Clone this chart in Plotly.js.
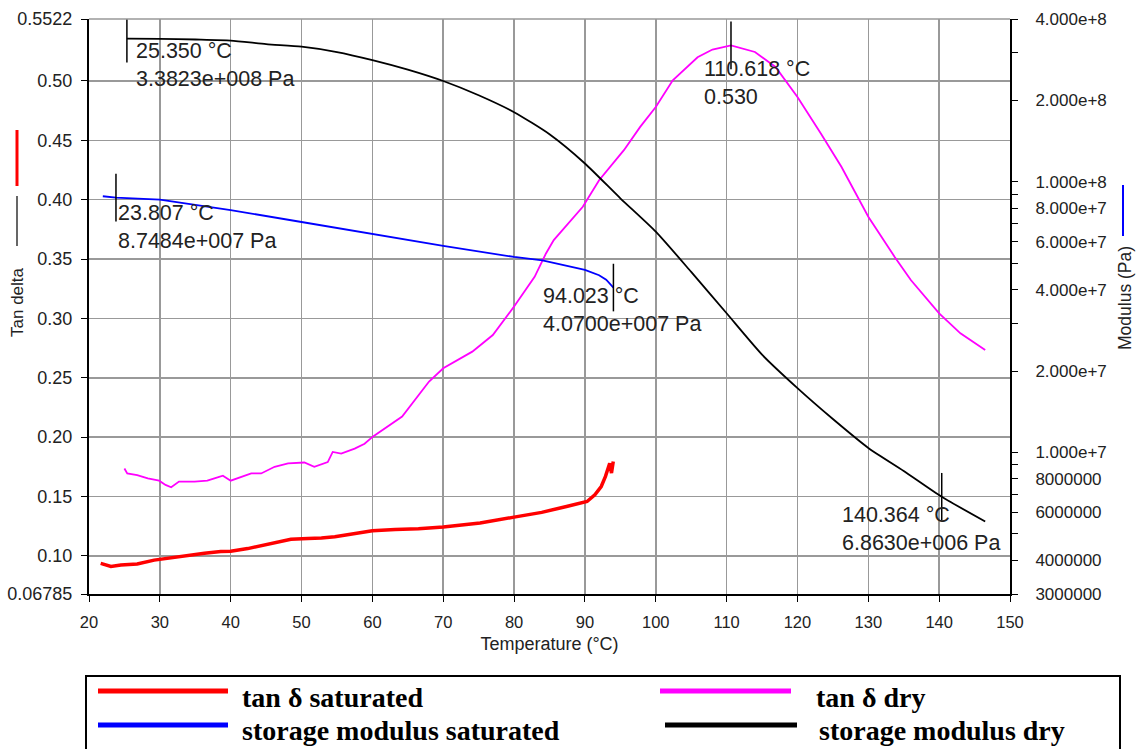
<!DOCTYPE html>
<html>
<head>
<meta charset="utf-8">
<script src="https://cdn.plot.ly/plotly-3.0.1.min.js"></script>
<style>
html,body{margin:0;padding:0;background:#fff;}
#chart{width:1146px;height:749px;}
</style>
</head>
<body>
<div id="chart"></div>
<script>
// ---------- DATA ----------
// tan delta, saturated (red)
const tempSatTan = [21.65, 23.1, 24.5, 26.8, 29.2, 31.6, 33.9, 36.3, 38.6, 40.0, 42.4, 44.8, 47.1, 48.5, 50.9, 52.8, 54.7, 56.6, 58.4, 60.0, 63.2, 66.5, 70.0, 75.2, 80.0, 83.9, 87.4, 90.3, 91.4, 92.3, 92.9, 93.2, 93.5, 93.75, 94.0];
const tanSat = [0.0936, 0.0911, 0.0922, 0.0931, 0.0964, 0.0986, 0.1006, 0.1022, 0.1036, 0.1039, 0.1061, 0.1089, 0.1117, 0.1139, 0.1147, 0.1150, 0.1161, 0.1178, 0.1194, 0.1211, 0.1222, 0.1228, 0.1242, 0.1276, 0.1326, 0.1366, 0.1416, 0.1458, 0.1514, 0.1584, 0.1669, 0.1725, 0.1780, 0.1697, 0.1795];

// tan delta, dry (magenta)
const tempDryTan = [25.0, 25.4, 26.8, 28.3, 29.9, 30.8, 31.6, 32.7, 34.9, 36.7, 37.7, 38.9, 40.0, 41.5, 42.9, 44.3, 46.2, 48.1, 50.4, 51.8, 53.7, 54.4, 55.6, 57.5, 58.9, 60.1, 61.3, 64.2, 68.0, 70.0, 74.1, 77.0, 80.0, 82.9, 84.5, 85.6, 89.7, 92.0, 95.5, 97.8, 100.0, 102.4, 105.9, 108.0, 110.618, 114.0, 116.9, 120.0, 123.3, 126.2, 130.0, 133.7, 136.0, 140.0, 143.0, 146.5];
const tanDry = [0.1736, 0.1694, 0.1680, 0.1653, 0.1633, 0.1597, 0.1578, 0.1625, 0.1625, 0.1633, 0.1653, 0.1675, 0.1633, 0.1667, 0.1694, 0.1694, 0.1750, 0.1778, 0.1786, 0.1750, 0.1790, 0.1875, 0.1861, 0.1903, 0.1944, 0.2006, 0.2056, 0.2173, 0.2468, 0.2580, 0.2720, 0.2860, 0.3100, 0.3350, 0.3547, 0.3660, 0.3940, 0.4164, 0.4417, 0.4613, 0.4780, 0.5006, 0.5200, 0.5265, 0.5300, 0.5244, 0.5118, 0.4865, 0.4557, 0.4277, 0.3856, 0.3520, 0.3323, 0.3043, 0.2874, 0.2734];

// storage modulus, saturated (blue), Pa
const tempSatMod = [21.95, 23.807, 30, 40, 50, 60, 70, 80, 84, 90, 92, 93, 94.023];
const modSat = [8.85e7, 8.7484e7, 8.60e7, 7.87e7, 7.11e7, 6.42e7, 5.80e7, 5.28e7, 5.13e7, 4.73e7, 4.52e7, 4.35e7, 4.07e7];

// storage modulus, dry (black), Pa
const tempDryMod = [25.35, 30, 35, 40, 45, 50, 55, 60, 65, 70, 75, 80, 85, 90, 95, 100, 105, 110, 115, 120, 125, 130, 135, 140.364, 146.5];
const modDry = [3.3823e8, 3.38e8, 3.36e8, 3.33e8, 3.23e8, 3.16e8, 3.02e8, 2.82e8, 2.60e8, 2.36e8, 2.09e8, 1.81e8, 1.50e8, 1.17e8, 8.7e7, 6.55e7, 4.65e7, 3.27e7, 2.30e7, 1.73e7, 1.33e7, 1.04e7, 8.55e6, 6.863e6, 5.56e6];

// cursor readouts
const cursorTemps = [25.350, 23.807, 94.023, 110.618, 140.364];
const cursorValues = [3.3823e8, 8.7484e7, 4.0700e7, 0.530, 6.8630e6];
const cursorAxes = ['y2', 'y2', 'y2', 'y', 'y2'];

// axis ticks
const xTicks = [20, 30, 40, 50, 60, 70, 80, 90, 100, 110, 120, 130, 140, 150];
const leftTicks = [0.06785, 0.10, 0.15, 0.20, 0.25, 0.30, 0.35, 0.40, 0.45, 0.50, 0.5522];
const leftTickText = ['0.06785', '0.10', '0.15', '0.20', '0.25', '0.30', '0.35', '0.40', '0.45', '0.50', '0.5522'];
const rightTicks = [3e6, 4e6, 6e6, 8e6, 1e7, 2e7, 4e7, 6e7, 8e7, 1e8, 2e8, 4e8];
const rightTickText = ['3000000', '4000000', '6000000', '8000000', '1.000e+7', '2.000e+7', '4.000e+7', '6.000e+7', '8.000e+7', '1.000e+8', '2.000e+8', '4.000e+8'];
const rightMinorTicks = [5e6, 7e6, 9e6, 3e7, 5e7, 7e7, 9e7, 3e8];

const legendNames = ['tan δ saturated', 'tan δ dry', 'storage modulus saturated', 'storage modulus dry'];
const seriesColors = ['#ff0000', '#ff00ff', '#0000ff', '#000000'];

// ---------- LAYOUT HELPERS ----------
const W = 1146, H = 749;
const M = {l: 89, r: 136, t: 19, b: 155};
const PW = W - M.l - M.r, PH = H - M.t - M.b;
const px = v => (v - M.l) / PW;          // pixel x -> paper
const py = v => (H - M.b - v) / PH;      // pixel y -> paper

function fmtPa(v) {
  const s = v.toExponential(4);
  const [m, e] = s.split('e');
  const sign = e[0];
  const d = e.slice(1).padStart(3, '0');
  return m + 'e' + sign + d + ' Pa';
}

const baseFont = 'Liberation Sans, Arial, sans-serif';

const traces = [
  {x: tempSatTan, y: tanSat, type: 'scatter', mode: 'lines', name: legendNames[0],
   line: {color: seriesColors[0], width: 3.5}, yaxis: 'y'},
  {x: tempDryTan, y: tanDry, type: 'scatter', mode: 'lines', name: legendNames[1],
   line: {color: seriesColors[1], width: 1.8}, yaxis: 'y'},
  {x: tempSatMod, y: modSat, type: 'scatter', mode: 'lines', name: legendNames[2],
   line: {color: seriesColors[2], width: 1.8}, yaxis: 'y2'},
  {x: tempDryMod, y: modDry, type: 'scatter', mode: 'lines', name: legendNames[3],
   line: {color: seriesColors[3], width: 1.8, shape: 'spline', smoothing: 0.6}, yaxis: 'y2'}
];

// cursor markers
['y', 'y2'].forEach(ax => {
  const xs = [], ys = [];
  cursorTemps.forEach((t, i) => { if (cursorAxes[i] === ax) { xs.push(t); ys.push(cursorValues[i]); } });
  traces.push({x: xs, y: ys, type: 'scatter', mode: 'markers', yaxis: ax, hoverinfo: 'skip',
    marker: {symbol: 'line-ns-open', size: 34, color: '#000', line: {color: '#000', width: 1.5}}});
});

// annotation offsets (pixels)
const curShift = [[7, 2], [0, -1], [-72, 6], [-29, -10], [-102, -4]];

const annotations = cursorTemps.map((t, i) => {
  const isMod = cursorAxes[i] === 'y2';
  const txt = t.toFixed(3) + ' °C<br>' + (isMod ? fmtPa(cursorValues[i]) : cursorValues[i].toFixed(3));
  return {
    x: t, y: isMod ? Math.log10(cursorValues[i]) : cursorValues[i],
    xref: 'x', yref: cursorAxes[i], text: txt, showarrow: false,
    xanchor: 'left', yanchor: 'top', align: 'left',
    xshift: curShift[i][0], yshift: curShift[i][1],
    font: {family: baseFont, size: 21.5, color: '#222'}
  };
});

// axis titles
annotations.push({xref: 'paper', yref: 'paper', x: px(17), y: py(302), text: 'Tan delta',
  textangle: -90, showarrow: false, xanchor: 'center', yanchor: 'middle',
  font: {family: baseFont, size: 17, color: '#222'}});
annotations.push({xref: 'paper', yref: 'paper', x: px(1125), y: py(298), text: 'Modulus (Pa)',
  textangle: -90, showarrow: false, xanchor: 'center', yanchor: 'middle',
  font: {family: baseFont, size: 17.5, color: '#222'}});

// legend texts
const legTextPos = [[240, 697], [814, 697], [240, 730], [817, 730]];
legendNames.forEach((n, i) => {
  annotations.push({xref: 'paper', yref: 'paper', x: px(legTextPos[i][0]), y: py(legTextPos[i][1]),
    text: '<b>' + n + '</b>', showarrow: false, xanchor: 'left', yanchor: 'middle',
    font: {family: 'Liberation Serif, Times New Roman, serif', size: 28, color: '#000'}});
});

const legLinePos = [[98, 228, 691], [660, 791, 691], [98, 228, 725], [665, 797, 725]];
const shapes = [
  // top border
  {type: 'line', xref: 'paper', yref: 'paper', x0: 0, x1: 1, y0: 1, y1: 1, line: {color: '#999', width: 1.5}},
  // legend box
  {type: 'rect', xref: 'paper', yref: 'paper', x0: px(86), x1: px(1120), y0: py(676), y1: py(760),
   line: {color: '#000', width: 2}},
  // axis-title swatches
  {type: 'line', xref: 'paper', yref: 'paper', x0: px(17), x1: px(17), y0: py(130), y1: py(186), line: {color: seriesColors[0], width: 3}},
  {type: 'line', xref: 'paper', yref: 'paper', x0: px(17), x1: px(17), y0: py(196), y1: py(246), line: {color: seriesColors[3], width: 1.2}},
  {type: 'line', xref: 'paper', yref: 'paper', x0: px(1123), x1: px(1123), y0: py(185), y1: py(236), line: {color: seriesColors[2], width: 2}}
];
legLinePos.forEach((p, i) => {
  shapes.push({type: 'line', xref: 'paper', yref: 'paper', x0: px(p[0]), x1: px(p[1]), y0: py(p[2]), y1: py(p[2]),
    line: {color: seriesColors[i], width: 5}});
});

const layout = {
  width: W, height: H,
  margin: M,
  paper_bgcolor: '#fff', plot_bgcolor: '#fff',
  showlegend: false,
  xaxis: {
    range: [20, 150], tickmode: 'array', tickvals: xTicks, ticktext: xTicks.map(String),
    showgrid: true, gridcolor: '#999', gridwidth: 1.5, zeroline: false,
    showline: true, linecolor: '#000', linewidth: 2, ticks: 'outside', ticklen: 6, tickcolor: '#000',
    tickfont: {family: baseFont, size: 16.5, color: '#222'}, ticklabelstandoff: 6,
    title: {text: 'Temperature (°C)', font: {family: baseFont, size: 18, color: '#222'}, standoff: 8}
  },
  yaxis: {
    range: [0.06785, 0.5522], tickmode: 'array', tickvals: leftTicks, ticktext: leftTickText,
    showgrid: true, gridcolor: '#999', gridwidth: 1.5, zeroline: false,
    showline: true, linecolor: '#000', linewidth: 2, ticks: 'outside', ticklen: 6, tickcolor: '#000',
    tickfont: {family: baseFont, size: 18, color: '#222'}, ticklabelstandoff: 5
  },
  yaxis2: {
    type: 'log', overlaying: 'y', side: 'right',
    range: [Math.log10(3e6), Math.log10(4e8)], tickmode: 'array', tickvals: rightTicks, ticktext: rightTickText,
    showgrid: false, zeroline: false,
    showline: true, linecolor: '#000', linewidth: 2, ticks: 'outside', ticklen: 6, tickcolor: '#000',
    minor: {tickmode: 'array', tickvals: rightMinorTicks, ticks: 'outside', ticklen: 6, tickcolor: '#000', showgrid: false},
    tickfont: {family: baseFont, size: 17, color: '#222'}, ticklabelstandoff: 14
  },
  annotations: annotations,
  shapes: shapes
};

Plotly.newPlot('chart', traces, layout, {displayModeBar: false, staticPlot: true});
</script>
</body>
</html>
